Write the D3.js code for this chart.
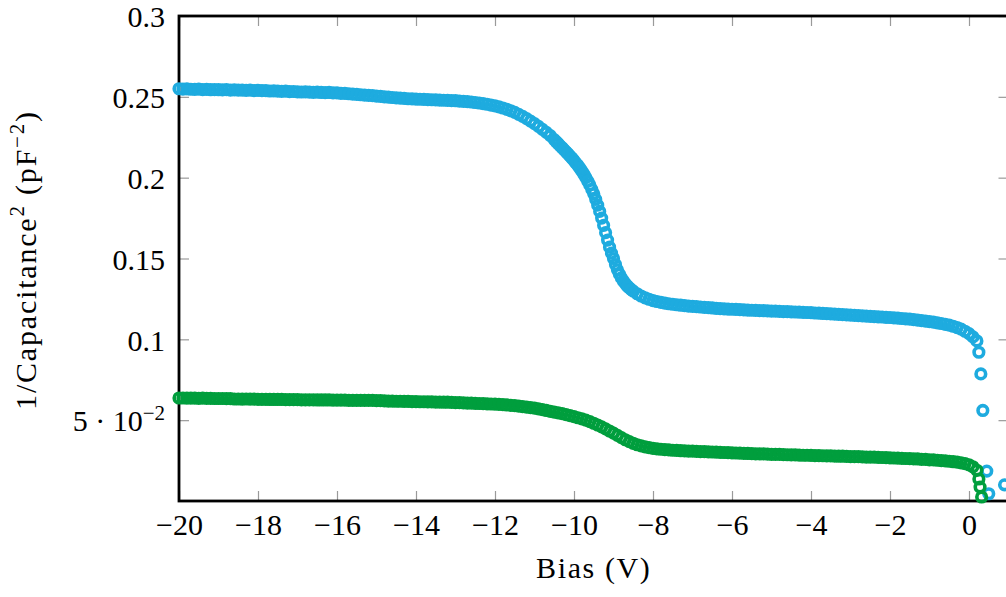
<!DOCTYPE html>
<html>
<head>
<meta charset="utf-8">
<script src="https://cdn.jsdelivr.net/npm/d3@7"></script>
<style>
  body { margin: 0; background: #fff; }
  text { font-family: "Liberation Serif", "Times New Roman", serif; fill: #000; }
</style>
</head>
<body>
<svg id="chart"></svg>
<script>
// bias sweep (V), one row per volt
const bias = [
  -20.0,-19.9,-19.8,-19.7,-19.6,-19.5,-19.4,-19.3,-19.2,-19.1,
  -19.0,-18.9,-18.8,-18.7,-18.6,-18.5,-18.4,-18.3,-18.2,-18.1,
  -18.0,-17.9,-17.8,-17.7,-17.6,-17.5,-17.4,-17.3,-17.2,-17.1,
  -17.0,-16.9,-16.8,-16.7,-16.6,-16.5,-16.4,-16.3,-16.2,-16.1,
  -16.0,-15.9,-15.8,-15.7,-15.6,-15.5,-15.4,-15.3,-15.2,-15.1,
  -15.0,-14.9,-14.8,-14.7,-14.6,-14.5,-14.4,-14.3,-14.2,-14.1,
  -14.0,-13.9,-13.8,-13.7,-13.6,-13.5,-13.4,-13.3,-13.2,-13.1,
  -13.0,-12.9,-12.8,-12.7,-12.6,-12.5,-12.4,-12.3,-12.2,-12.1,
  -12.0,-11.9,-11.8,-11.7,-11.6,-11.5,-11.4,-11.3,-11.2,-11.1,
  -11.0,-10.9,-10.8,-10.7,-10.6,-10.5,-10.4,-10.3,-10.2,-10.1,
  -10.0,-9.9,-9.8,-9.7,-9.6,-9.5,-9.4,-9.3,-9.2,-9.1,
  -9.0,-8.9,-8.8,-8.7,-8.6,-8.5,-8.4,-8.3,-8.2,-8.1,
  -8.0,-7.9,-7.8,-7.7,-7.6,-7.5,-7.4,-7.3,-7.2,-7.1,
  -7.0,-6.9,-6.8,-6.7,-6.6,-6.5,-6.4,-6.3,-6.2,-6.1,
  -6.0,-5.9,-5.8,-5.7,-5.6,-5.5,-5.4,-5.3,-5.2,-5.1,
  -5.0,-4.9,-4.8,-4.7,-4.6,-4.5,-4.4,-4.3,-4.2,-4.1,
  -4.0,-3.9,-3.8,-3.7,-3.6,-3.5,-3.4,-3.3,-3.2,-3.1,
  -3.0,-2.9,-2.8,-2.7,-2.6,-2.5,-2.4,-2.3,-2.2,-2.1,
  -2.0,-1.9,-1.8,-1.7,-1.6,-1.5,-1.4,-1.3,-1.2,-1.1,
  -1.0,-0.9,-0.8,-0.7,-0.6,-0.5,-0.4,-0.3,-0.2,-0.1,
  0.0,0.1,0.2
];

// 1/C^2 (pF^-2), blue sample
const blueValues = [
  .2550,.2548,.2549,.2547,.2546,.2548,.2545,.2546,.2544,.2545,
  .2544,.2543,.2545,.2542,.2543,.2541,.2542,.2540,.2541,.2539,
  .2540,.2538,.2539,.2536,.2537,.2535,.2534,.2535,.2532,.2533,
  .2531,.2530,.2531,.2529,.2528,.2529,.2527,.2526,.2527,.2525,
  .2524,.2522,.2521,.2519,.2517,.2515,.2513,.2511,.2509,.2507,
  .2505,.2503,.2500,.2498,.2496,.2494,.2492,.2490,.2488,.2487,
  .2486,.2485,.2484,.2483,.2482,.2481,.2480,.2479,.2478,.2477,
  .2476,.2474,.2472,.2470,.2468,.2465,.2462,.2458,.2454,.2449,
  .2444,.2438,.2431,.2423,.2414,.2404,.2392,.2379,.2365,.2350,
  .2334,.2317,.2299,.2280,.2260,.2235,.2210,.2185,.2160,.2133,
  .2105,.2075,.2040,.2000,.1955,.1900,.1830,.1750,.1660,.1570,
  .1500,.1430,.1380,.1345,.1318,.1298,.1282,.1268,.1257,.1248,
  .1240,.1234,.1229,.1224,.1220,.1217,.1214,.1211,.1208,.1206,
  .1204,.1202,.1200,.1198,.1196,.1194,.1192,.1190,.1188,.1187,
  .1186,.1185,.1184,.1182,.1181,.1180,.1179,.1178,.1177,.1176,
  .1175,.1174,.1173,.1172,.1171,.1170,.1169,.1168,.1167,.1166,
  .1165,.1163,.1162,.1160,.1159,.1157,.1156,.1154,.1153,.1151,
  .1150,.1148,.1147,.1145,.1144,.1142,.1141,.1139,.1138,.1136,
  .1135,.1133,.1131,.1129,.1127,.1125,.1122,.1119,.1116,.1113,
  .1110,.1106,.1102,.1098,.1093,.1088,.1081,.1073,.1063,.1050,
  .1035,.1015,.0990
];

// extra blue readings on the steep drop, where the sweep is sampled more finely
const blueSteepBias = [
  -10.45,-10.35,-10.25,-10.15,-10.05,-9.95,-9.85,-9.75,-9.65,-9.55,
  -9.45,-9.35,-9.25,-9.15,-9.05,-8.95,-8.85,-8.75,-8.65,-8.55
];
const blueSteepValues = [
  .2222,.2197,.2172,.2147,.2120,.2090,.2058,.2021,.1978,.1928,
  .1866,.1791,.1705,.1614,.1533,.1463,.1403,.1361,.1330,.1307
];

// 1/C^2 (pF^-2), green sample
const greenValues = [
  .0637,.0637,.0636,.0636,.0636,.0635,.0636,.0635,.0635,.0634,
  .0634,.0634,.0633,.0633,.0631,.0631,.0630,.0631,.0630,.0630,
  .0629,.0629,.0629,.0628,.0628,.0628,.0628,.0627,.0627,.0627,
  .0627,.0626,.0626,.0626,.0626,.0625,.0625,.0625,.0625,.0624,
  .0624,.0624,.0624,.0623,.0623,.0623,.0623,.0622,.0622,.0622,
  .0621,.0621,.0619,.0618,.0618,.0617,.0617,.0616,.0616,.0615,
  .0615,.0614,.0614,.0613,.0613,.0612,.0612,.0611,.0611,.0610,
  .0609,.0608,.0607,.0606,.0605,.0604,.0603,.0602,.0601,.0600,
  .0599,.0598,.0596,.0594,.0592,.0590,.0587,.0584,.0581,.0578,
  .0574,.0570,.0565,.0560,.0555,.0550,.0545,.0540,.0534,.0528,
  .0522,.0515,.0508,.0500,.0491,.0481,.0470,.0458,.0446,.0433,
  .0420,.0406,.0392,.0379,.0367,.0357,.0348,.0341,.0335,.0330,
  .0326,.0323,.0320,.0318,.0316,.0314,.0313,.0311,.0310,.0309,
  .0308,.0307,.0306,.0305,.0304,.0303,.0302,.0301,.0300,.0299,
  .0298,.0297,.0296,.0295,.0294,.0293,.0292,.0291,.0291,.0290,
  .0289,.0288,.0288,.0287,.0286,.0285,.0285,.0284,.0283,.0283,
  .0282,.0281,.0281,.0280,.0279,.0279,.0278,.0277,.0277,.0276,
  .0275,.0274,.0274,.0273,.0272,.0271,.0271,.0270,.0269,.0268,
  .0267,.0266,.0265,.0264,.0263,.0262,.0261,.0260,.0258,.0257,
  .0255,.0254,.0252,.0250,.0248,.0246,.0243,.0240,.0236,.0231,
  .0224,.0212,.0190
];

// the last few points past zero bias, where the curves fall off
const blueTailBias = [0.25, 0.30, 0.35, 0.45, 0.50, 0.90];
const blueTailValues = [0.0920, 0.0786, 0.0560, 0.0185, 0.0045, 0.0100];
const greenTailBias = [0.25, 0.28, 0.32];
const greenTailValues = [0.0136, 0.0086, 0.0025];

const xTicks = [-20, -18, -16, -14, -12, -10, -8, -6, -4, -2, 0];
const yTicks = [0.05, 0.1, 0.15, 0.2, 0.25, 0.3];
const yTickLabels = ['5 · 10^−2', '0.1', '0.15', '0.2', '0.25', '0.3'];

class CvChart {

  constructor(_config) {
    this.config = {
      parentElement: _config.parentElement,
      containerWidth: _config.containerWidth || 1006,
      containerHeight: _config.containerHeight || 597,
      margin: { top: 16, right: -2.5, bottom: 96, left: 179 }
    };
    this.series = _config.series;
    this.initVis();
  }

  initVis() {
    let vis = this;
    let m = vis.config.margin;

    vis.width = vis.config.containerWidth - m.left - m.right;
    vis.height = vis.config.containerHeight - m.top - m.bottom;

    vis.svg = d3.select(vis.config.parentElement)
      .attr('width', vis.config.containerWidth)
      .attr('height', vis.config.containerHeight);

    vis.chart = vis.svg.append('g')
      .attr('transform', `translate(${m.left},${m.top})`);

    vis.xScale = d3.scaleLinear().domain([-20, 1]).range([0, vis.width]);
    vis.yScale = d3.scaleLinear().domain([0, 0.3]).range([vis.height, 0]);

    vis.render();
  }

  render() {
    let vis = this;
    let fontSize = 30;

    // inward grey ticks on all four sides
    const tickStyle = g => {
      g.select('.domain').remove();
      g.selectAll('.tick line').attr('stroke', '#9a9a9a').attr('stroke-width', 1.2);
    };

    vis.chart.append('g')
      .attr('transform', `translate(0,${vis.height})`)
      .call(d3.axisBottom(vis.xScale).tickValues(xTicks).tickSize(-10))
      .call(tickStyle)
      .call(g => g.selectAll('.tick text')
        .attr('font-size', fontSize)
        .attr('font-family', null)
        .attr('y', 34)
        .attr('dy', 0));

    vis.chart.append('g')
      .call(d3.axisTop(vis.xScale).tickValues(xTicks).tickSize(-10).tickFormat(''))
      .call(tickStyle);

    vis.chart.append('g')
      .call(d3.axisLeft(vis.yScale).tickValues(yTicks).tickSize(-10).tickFormat(''))
      .call(tickStyle)
      .call(g => g.selectAll('.tick text').each(function(d, i) {
        let t = d3.select(this)
          .attr('font-size', fontSize)
          .attr('font-family', null)
          .attr('x', -14)
          .attr('dy', '0.36em');
        let parts = yTickLabels[i].split('^');
        t.text(parts[0]);
        if (parts[1]) {
          t.append('tspan')
            .attr('font-size', fontSize * 0.7)
            .attr('dy', -11)
            .text(parts[1]);
        }
      }));

    vis.chart.append('g')
      .attr('transform', `translate(${vis.width},0)`)
      .call(d3.axisRight(vis.yScale).tickValues(yTicks).tickSize(-10).tickFormat(''))
      .call(tickStyle);

    // frame
    vis.chart.append('rect')
      .attr('width', vis.width)
      .attr('height', vis.height)
      .attr('fill', 'none')
      .attr('stroke', '#000')
      .attr('stroke-width', 2.8);

    // markers
    vis.series.forEach(s => {
      let pts = s.x.map((x, i) => ({ x: x, y: s.y[i] }));
      vis.chart.append('g')
        .selectAll('circle')
        .data(pts)
        .join('circle')
        .attr('cx', d => vis.xScale(d.x))
        .attr('cy', d => vis.yScale(d.y))
        .attr('r', 4.8)
        .attr('fill', 'none')
        .attr('stroke', s.color)
        .attr('stroke-width', 3.6);
    });

    // axis titles
    vis.svg.append('text')
      .attr('x', vis.config.margin.left + vis.width / 2)
      .attr('y', 578)
      .attr('text-anchor', 'middle')
      .attr('font-size', fontSize)
      .attr('letter-spacing', 1.6)
      .text('Bias (V)');

    let yl = vis.svg.append('text')
      .attr('transform', 'translate(36,260) rotate(-90)')
      .attr('text-anchor', 'middle')
      .attr('font-size', fontSize)
      .attr('letter-spacing', 1.8);
    yl.append('tspan').text('1/Capacitance');
    yl.append('tspan').attr('font-size', fontSize * 0.7).attr('dy', -12).text('2');
    yl.append('tspan').attr('dy', 12).text(' (pF');
    yl.append('tspan').attr('font-size', fontSize * 0.7).attr('dy', -12).text('−2');
    yl.append('tspan').attr('dy', 12).text(')');
  }
}

new CvChart({
  parentElement: '#chart',
  series: [
    {
      x: bias.concat(blueSteepBias, blueTailBias),
      y: blueValues.concat(blueSteepValues, blueTailValues),
      color: '#1eabdf'
    },
    {
      x: bias.concat(greenTailBias),
      y: greenValues.concat(greenTailValues),
      color: '#009e3d'
    }
  ]
});
</script>
</body>
</html>
